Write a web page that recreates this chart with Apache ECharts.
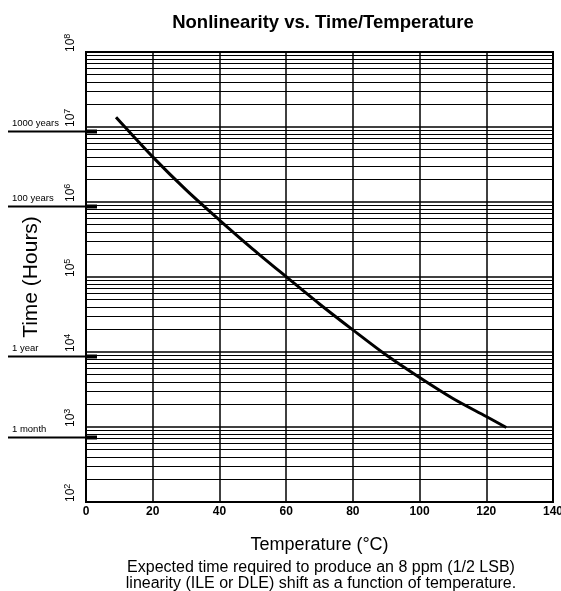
<!DOCTYPE html>
<html>
<head>
<meta charset="utf-8">
<script src="https://cdn.jsdelivr.net/npm/echarts@6/dist/echarts.min.js"></script>
<style>html,body{margin:0;padding:0;background:#fff}#c{width:561px;height:591px}</style>
</head>
<body>
<div id="c"></div>
<script>
// Data
var temperatures = [9, 20, 30, 40, 50, 60, 70, 80, 90, 100, 110, 120, 126];
var hours = [1.35e7, 4.0e6, 1.45e6, 5.75e5, 2.36e5, 1.01e5, 4.37e4, 1.97e4, 9.1e3, 4.57e3, 2.4e3, 1.38e3, 985];
var xTicks = [0, 20, 40, 60, 80, 100, 120, 140];
var refNames = ['1000 years', '100 years', '1 year', '1 month'];
var refHours = [8.76e6, 8.76e5, 8760, 730];
var decadeExps = [2, 3, 4, 5, 6, 7];
var minorMultipliers = [2, 3, 4, 5, 6, 7, 8, 9];

var minorLines = [];
decadeExps.forEach(function (e) {
  minorMultipliers.forEach(function (m) {
    minorLines.push({ yAxis: m * Math.pow(10, e) });
  });
});

var font = 'Liberation Sans, Arial, sans-serif';
var chart = echarts.init(document.getElementById('c'), null, { renderer: 'canvas' });
var option = {
  animation: false,
  backgroundColor: '#fff',
  title: [{
    text: 'Nonlinearity vs. Time/Temperature',
    left: 318, top: 8, textAlign: 'center',
    textStyle: { fontFamily: font, fontSize: 18.5, fontWeight: 'bold', color: '#000' }
  }, {
    text: 'Expected time required to produce an 8 ppm (1/2 LSB)\nlinearity (ILE or DLE) shift as a function of temperature.',
    left: 316, top: 555, textAlign: 'center',
    textStyle: { fontFamily: font, fontSize: 16, fontWeight: 'normal', color: '#000', lineHeight: 16 }
  }],
  grid: { left: 86, right: 8, top: 52, bottom: 89, show: true, borderColor: '#000', borderWidth: 2, backgroundColor: 'transparent', outerBoundsMode: 'none', containLabel: false },
  xAxis: {
    type: 'value', min: 0, max: 140, interval: 20,
    name: 'Temperature (°C)', nameLocation: 'middle', nameGap: 34, nameMoveOverlap: false,
    nameTextStyle: { fontFamily: font, fontSize: 18, color: '#000' },
    axisLine: { show: true, lineStyle: { color: '#000', width: 2 } },
    axisTick: { show: false },
    axisLabel: { color: '#000', fontFamily: font, fontSize: 12, fontWeight: 'bold', margin: 4 },
    splitLine: { show: true, lineStyle: { color: '#000', width: 1.5 } }
  },
  yAxis: {
    type: 'log', logBase: 10, min: 100, max: 1e8,
    name: 'Time (Hours)', nameLocation: 'middle', nameGap: 44, nameMoveOverlap: false,
    nameTextStyle: { fontFamily: font, fontSize: 21, color: '#000' },
    axisLine: { show: true, lineStyle: { color: '#000', width: 2 } },
    axisTick: { show: false },
    axisLabel: {
      rotate: 90, margin: 8, color: '#000', align: 'left', verticalAlign: 'bottom',
      formatter: function (v) {
        var e = Math.round(Math.log10(v));
        return '{b|10}{s|' + e + '}';
      },
      rich: {
        b: { fontFamily: font, fontSize: 12, color: '#000' },
        s: { fontFamily: font, fontSize: 9, color: '#000', verticalAlign: 'top', padding: [0, 0, 6, 0] }
      }
    },
    splitLine: { show: true, lineStyle: { color: '#000', width: 1.5 } }
  },
  series: [{
    type: 'line',
    data: temperatures.map(function (t, i) { return [t, hours[i]]; }),
    smooth: 0.3,
    showSymbol: false,
    lineStyle: { color: '#000', width: 3 },
    z: 5,
    markLine: {
      silent: true, symbol: 'none', animation: false,
      label: { show: false },
      lineStyle: { color: '#000', width: 1, type: 'solid' },
      data: minorLines
    }
  }]
};
chart.setOption(option);

var graphics = [];
refHours.forEach(function (h, i) {
  var p = chart.convertToPixel({ xAxisIndex: 0, yAxisIndex: 0 }, [0, h]);
  var y = Math.round(p[1]) + 0.5;
  graphics.push({ type: 'line', shape: { x1: 8, y1: y, x2: p[0], y2: y }, style: { stroke: '#000', lineWidth: 2 }, z: 10 });
  graphics.push({ type: 'rect', shape: { x: p[0], y: y - 2, width: 11, height: 4 }, style: { fill: '#000' }, z: 10 });
  graphics.push({ type: 'text', x: 12, y: y - 3, style: { text: refNames[i], font: '9.5px ' + font, fill: '#000', verticalAlign: 'bottom' }, z: 10 });
});
chart.setOption({ graphic: graphics });
</script>
</body>
</html>
